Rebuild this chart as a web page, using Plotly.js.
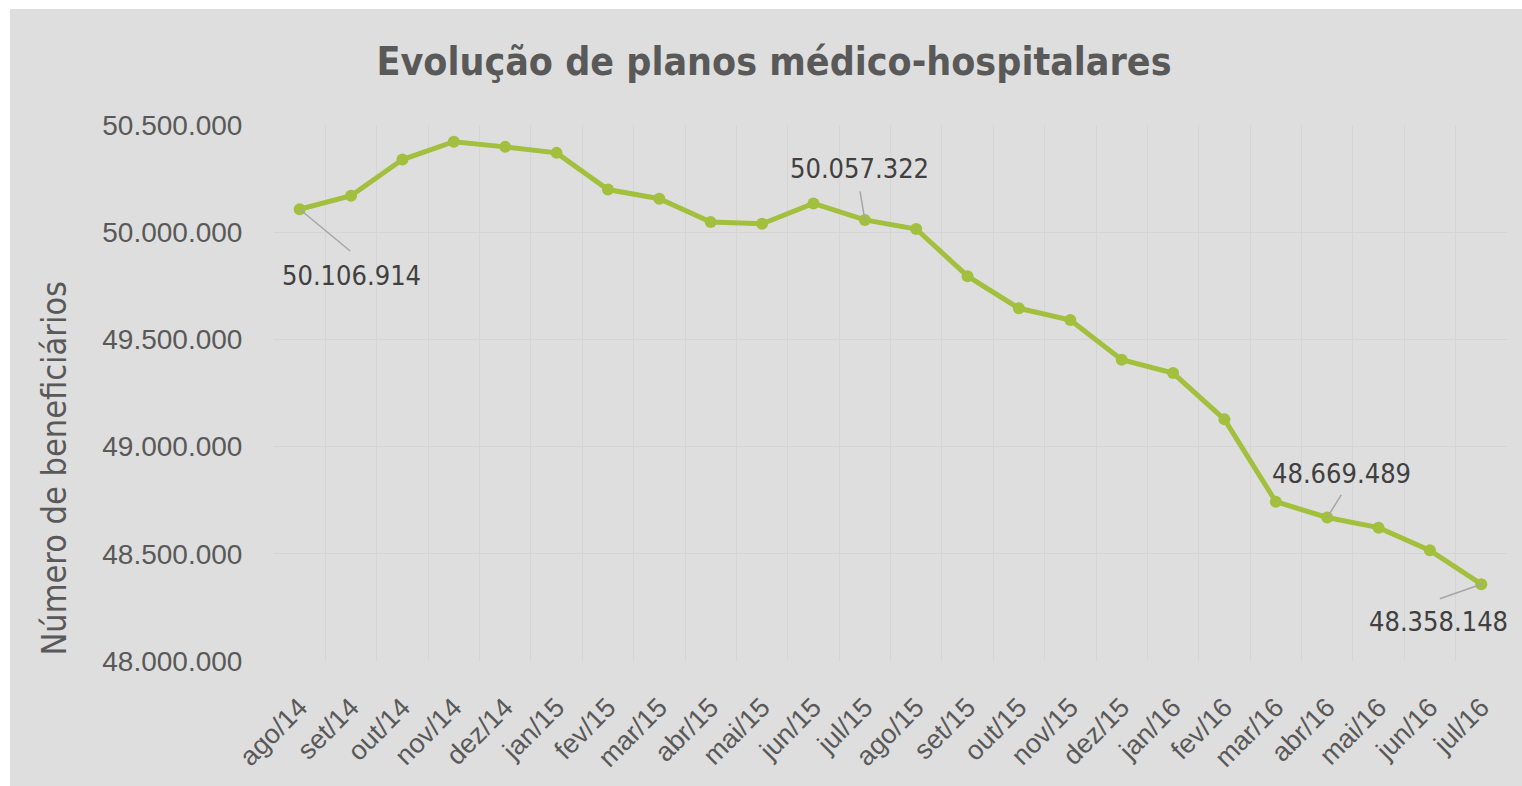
<!DOCTYPE html>
<html>
<head>
<meta charset="utf-8">
<script src="https://cdn.plot.ly/plotly-3.0.1.min.js"></script>
<style>
  html, body { margin: 0; padding: 0; background: #ffffff; }
  #chart { position: absolute; left: 10px; top: 9px; width: 1512px; height: 777px; }
</style>
</head>
<body>
<div id="chart"></div>
<script>
const months = ["ago/14","set/14","out/14","nov/14","dez/14","jan/15","fev/15","mar/15","abr/15","mai/15","jun/15","jul/15",
                "ago/15","set/15","out/15","nov/15","dez/15","jan/16","fev/16","mar/16","abr/16","mai/16","jun/16","jul/16"];
const beneficiarios = [50106914, 50170000, 50339000, 50422000, 50398000, 50370000, 50199000, 50156000, 50047000, 50039000, 50134000, 50057322,
                       50015000, 49795000, 49645000, 49590000, 49405000, 49343000, 49127000, 48743000, 48669489, 48622000, 48516000, 48358148];
const labeledIdx = [0, 11, 20, 23];
const titleText = "Evolução de planos médico-hospitalares";
const yTitleText = "Número de beneficiários";

// label placement (text centre offset, leader tail offset) in px
const labelShift = {0: [52, -66], 11: [-5, 51], 20: [14, 44], 23: [-43, -37]};
const leaderTail = {0: [52, 43], 11: [-5, -30], 20: [15, -24], 23: [-43, 15]};

function fmt(v) { return String(v).replace(/\B(?=(\d{3})+(?!\d))/g, "."); }

const condensed = "DejaVu Sans Condensed, DejaVu Sans, sans-serif";

const trace = {
  x: months, y: beneficiarios, type: "scatter", mode: "lines+markers",
  line: {color: "#a3bf3e", width: 5},
  marker: {color: "#a3bf3e", size: 12},
  hoverinfo: "x+y"
};

const annotations = [];
labeledIdx.forEach(i => {
  annotations.push({
    x: months[i], y: beneficiarios[i], xref: "x", yref: "y",
    text: "", showarrow: true, arrowhead: 0, arrowwidth: 1.5, arrowcolor: "#a6a6a6",
    ax: leaderTail[i][0], ay: leaderTail[i][1], standoff: 0
  });
  annotations.push({
    x: months[i], y: beneficiarios[i], xref: "x", yref: "y",
    text: fmt(beneficiarios[i]), showarrow: false,
    xshift: labelShift[i][0], yshift: labelShift[i][1],
    xanchor: "center", yanchor: "middle",
    font: {family: condensed, stretch: "condensed", size: 27, color: "#404040"}
  });
});
annotations.push({
  xref: "paper", yref: "paper", x: -0.178, y: 0.36, xanchor: "center", yanchor: "middle",
  text: yTitleText, textangle: -90, showarrow: false,
  font: {family: condensed, stretch: "condensed", size: 34, color: "#595959"}
});

const layout = {
  width: 1512, height: 777,
  paper_bgcolor: "#dedede", plot_bgcolor: "#dedede",
  margin: {l: 264, r: 15, t: 116, b: 125},
  separators: ",.",
  showlegend: false,
  title: {
    text: titleText, x: 0.5053, xanchor: "center", xref: "container",
    y: 0.932, yanchor: "middle", yref: "container",
    font: {family: condensed, stretch: "condensed", size: 39, weight: "bold", color: "#595959"}
  },
  xaxis: {
    type: "category", range: [-0.5, 23.5], tickson: "boundaries",
    showgrid: true, gridcolor: "#d5d5d5", gridwidth: 1,
    showline: false, zeroline: false,
    ticks: "", ticklabelstandoff: 24,
    tickangle: -45,
    tickfont: {family: "Liberation Sans", size: 27, color: "#595959"}
  },
  yaxis: {
    range: [48000000, 50500000], dtick: 500000, tick0: 48000000, tickformat: ",d",
    showgrid: true, gridcolor: "#d5d5d5", gridwidth: 1,
    showline: false, zeroline: false,
    ticks: "outside", ticklen: 25, tickcolor: "rgba(0,0,0,0)",
    tickfont: {family: "Liberation Sans", size: 28, color: "#595959"}
  },
  annotations: annotations
};

Plotly.newPlot("chart", [trace], layout, {displayModeBar: false, responsive: false});
</script>
</body>
</html>
